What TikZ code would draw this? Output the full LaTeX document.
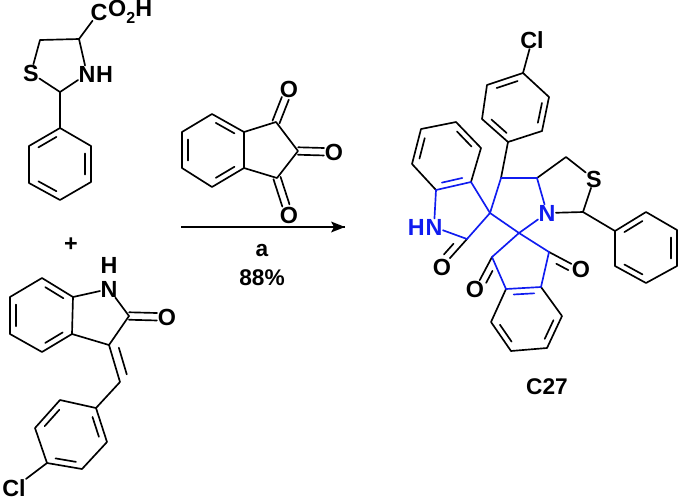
\documentclass[tikz,border=0pt]{standalone}
\usepackage{fontspec}
\setmainfont{Liberation Sans}
\usetikzlibrary{calc}
\definecolor{molblue}{RGB}{16,28,240}
\tikzset{
  bond/.style={line width=1.25pt,line join=round,line cap=round,black},
  bbond/.style={bond,draw=molblue},
  atom/.style={inner sep=.2pt,font=\fontsize{17.5}{20}\selectfont\bfseries,text=black},
  batom/.style={atom,text=molblue},
  tail/.style={inner sep=0pt,font=\fontsize{17.5}{20}\selectfont\bfseries},
  lbl/.style={inner sep=0pt,font=\fontsize{17}{20}\selectfont\bfseries}
}
% inner line of a ring double bond: ends, ring centre, style
\newcommand{\inner}[4][bond]{\draw[#1] ($($(#2)!.14!(#3)$)!.19!(#4)$) -- ($($(#3)!.14!(#2)$)!.19!(#4)$);}
% carbonyl: two lines from carbon to oxygen
\newcommand{\carbonyl}[2]{%
  \draw[bond,shorten >=7.5pt] ($(#1)!2.8pt!90:(#2)$) -- ($(#2)!2.8pt!-90:(#1)$);
  \draw[bond,shorten >=7.5pt] ($(#1)!2.8pt!-90:(#2)$) -- ($(#2)!2.8pt!90:(#1)$);}
% ketone drawn as a main bond and a short side line
\newcommand{\ketone}[3]{%
  \draw[bond] (#1) -- (#2);
  \draw[bond,shorten >=8pt] ($($(#1)!.33!(#2)$)!5.2pt!#3:(#2)$) -- ($(#2)!5.2pt!-#3:(#1)$);}
\begin{document}
\begin{tikzpicture}[x=.75pt,y=-.75pt]
\useasboundingbox (0,0) rectangle (680,501);
% ---------- thiazolidine acid
\node[atom] (aC) at (99,12) {C};
\node[tail,anchor=west] (aT) at (aC.east) {O\raisebox{-.3em}{\fontsize{12}{13}\selectfont 2}H};
\node[atom] (aS) at (31,73) {S};
\node[atom] (aN) at (87,74) {N};
\node[tail,anchor=west] (aH) at (aN.east) {H};
\coordinate (a4) at (79,39);
\coordinate (a5) at (40,40);
\coordinate (a2) at (60,92);
\coordinate (p1) at (60,128);
\coordinate (p2) at (91,146);
\coordinate (p3) at (91,182);
\coordinate (p4) at (60,200);
\coordinate (p5) at (29,183);
\coordinate (p6) at (29,146);
\coordinate (pc) at (60,164);
\draw[bond] (aC) -- (a4);
\draw[bond] (a4) -- (a5) -- (aS);
\draw[bond] (a4) -- (aN);
\draw[bond] (aS) -- (a2);
\draw[bond] (aN) -- (a2);
\draw[bond] (a2) -- (p1);
\draw[bond] (p1) -- (p2) -- (p3) -- (p4) -- (p5) -- (p6) -- cycle;
\inner{p1}{p6}{pc}\inner{p2}{p3}{pc}\inner{p4}{p5}{pc}
% ---------- plus
\node[atom] (plus) at (71,245) {+};
% ---------- 3-benzylidene oxindole
\node[atom] (bH) at (109,265.5) {H};
\node[atom] (bN) at (109,289) {N};
\node[atom] (bO) at (167,317) {O};
\node[atom] (bCl) at (14,488) {Cl};
\coordinate (b2) at (129,316);
\coordinate (b3) at (109,345);
\coordinate (b3a) at (72,334);
\coordinate (b7a) at (73,297);
\coordinate (b7) at (42,278);
\coordinate (b6) at (10,297);
\coordinate (b5) at (10,334);
\coordinate (b4) at (42,352);
\coordinate (bc) at (41,315);
\coordinate (bv) at (120,382);
\coordinate (q1) at (96,408);
\coordinate (q2) at (107,442);
\coordinate (q3) at (82,469);
\coordinate (q4) at (47,463);
\coordinate (q5) at (35,428);
\coordinate (q6) at (60,400);
\coordinate (qc) at (71,435);
\draw[bond] (b7a) -- (bN);
\draw[bond] (bN) -- (b2);
\draw[bond] (b2) -- (b3) -- (b3a);
\draw[bond] (b3a) -- (b7a) -- (b7) -- (b6) -- (b5) -- (b4) -- cycle;
\inner{b7}{b7a}{bc}\inner{b6}{b5}{bc}\inner{b4}{b3a}{bc}
\carbonyl{b2}{bO}
\draw[bond] (b3) -- (bv) -- (q1);
\draw[bond] ($($(b3)!.14!(bv)$)!6.5pt!90:(bv)$) -- ($($(bv)!.14!(b3)$)!6.5pt!-90:(b3)$);
\draw[bond] (q1) -- (q2) -- (q3) -- (q4) -- (q5) -- (q6) -- cycle;
\inner{q1}{q2}{qc}\inner{q3}{q4}{qc}\inner{q5}{q6}{qc}
\draw[bond] (q4) -- (bCl);
% ---------- indantrione
\node[atom] (tO1) at (289,89) {O};
\node[atom] (tO2) at (334,152) {O};
\node[atom] (tO3) at (289,215) {O};
\coordinate (t1) at (212,114);
\coordinate (t2) at (244,132);
\coordinate (t3) at (244,168);
\coordinate (t4) at (212,187);
\coordinate (t5) at (182,168);
\coordinate (t6) at (182,132);
\coordinate (tc) at (213,150);
\coordinate (c1) at (276,122);
\coordinate (c2) at (298,151);
\coordinate (c3) at (277,178);
\draw[bond] (t1) -- (t2) -- (t3) -- (t4) -- (t5) -- (t6) -- cycle;
\inner{t1}{t2}{tc}\inner{t3}{t4}{tc}\inner{t5}{t6}{tc}
\draw[bond] (t2) -- (c1) -- (c2) -- (c3) -- (t3);
\carbonyl{c1}{tO1}\carbonyl{c2}{tO2}\carbonyl{c3}{tO3}
% ---------- reaction arrow
\coordinate (arS) at (181,227);
\coordinate (arE) at (345,227);
\draw[line width=1pt] (arS) -- (arE);
\fill (arE) -- ++(-14,-5.5) -- ++(3,5.5) -- ++(-3,5.5) -- cycle;
\node[lbl] (la) at (262,251) {a};
\node[lbl] (lb) at (262,278) {88\%};
% ---------- product
\node[atom] (xCl) at (532,40) {Cl};
\node[atom] (xS) at (594,179) {S};
\node[batom] (xN) at (547,213) {N};
\node[batom] (xHN) at (434,227) {N};
\node[tail,anchor=east,text=molblue] (xHH) at (xHN.west) {H};
\node[atom] (xO1) at (442,267) {O};
\node[atom] (xO2) at (475,289) {O};
\node[atom] (xO3) at (581,269) {O};
\node[lbl] (xlab) at (547,387) {C27};
% chlorophenyl
\coordinate (r1) at (508,142);
\coordinate (r2) at (542,131);
\coordinate (r3) at (549,97);
\coordinate (r4) at (523,73);
\coordinate (r5) at (487,85);
\coordinate (r6) at (482,119);
\coordinate (rc) at (516,108);
% central ring
\coordinate (y1) at (501,178);
\coordinate (y2) at (537,178);
\coordinate (sp1) at (490,213);
\coordinate (sp2) at (519,233);
\coordinate (ych) at (566,157);
\coordinate (y3) at (583,212);
% oxindole
\coordinate (i3a) at (471,182);
\coordinate (i4) at (481,148);
\coordinate (i5) at (456,122);
\coordinate (i6) at (421,129);
\coordinate (i7) at (412,164);
\coordinate (i7a) at (436,190);
\coordinate (ic) at (446,156);
\coordinate (ico) at (467,239);
% indanedione
\coordinate (kl) at (492,257);
\coordinate (kr) at (549,252);
\coordinate (j3a) at (506,289);
\coordinate (j7a) at (541,287);
\coordinate (j7) at (562,316);
\coordinate (j6) at (547,348);
\coordinate (j5) at (511,351);
\coordinate (j4) at (491,322);
\coordinate (jc) at (526,319);
% phenyl
\coordinate (f1) at (615,231);
\coordinate (f2) at (646,212);
\coordinate (f3) at (677,230);
\coordinate (f4) at (677,266);
\coordinate (f5) at (646,283);
\coordinate (f6) at (615,266);
\coordinate (fc) at (646,248);
% black bonds
\draw[bond] (xCl) -- (r4);
\draw[bond] (r1) -- (r2) -- (r3) -- (r4) -- (r5) -- (r6) -- cycle;
\inner{r2}{r3}{rc}\inner{r4}{r5}{rc}\inner{r6}{r1}{rc}
\draw[bond] (r1) -- (y1);
\draw[bond] (y2) -- (ych) -- (xS);
\draw[bond] (xS) -- (y3);
\draw[bond] (xN) -- (y3) -- (f1);
\draw[bond] (f1) -- (f2) -- (f3) -- (f4) -- (f5) -- (f6) -- cycle;
\inner{f1}{f2}{fc}\inner{f3}{f4}{fc}\inner{f5}{f6}{fc}
\draw[bond] (i3a) -- (i4) -- (i5) -- (i6) -- (i7) -- (i7a);
\inner{i4}{i5}{ic}\inner{i6}{i7}{ic}
\ketone{ico}{xO1}{-90}\ketone{kl}{xO2}{90}\ketone{kr}{xO3}{-90}
\draw[bond] (j3a) -- (j4) -- (j5) -- (j6) -- (j7) -- (j7a);
\inner{j7}{j6}{jc}\inner{j5}{j4}{jc}
% blue bonds
\draw[bbond] (sp1) -- (y1) -- (y2);
\draw[bbond] (y2) -- (xN);
\draw[bbond] (xN) -- (sp2);
\draw[bbond] (sp1) -- (sp2);
\draw[bbond] (sp1) -- (i3a) -- (i7a);
\inner[bbond]{i3a}{i7a}{ic}
\draw[bbond] (i7a) -- (xHN);
\draw[bbond] (xHN) -- (ico);
\draw[bbond] (ico) -- (sp1);
\draw[bbond] (sp2) -- (kl) -- (j3a) -- (j7a) -- (kr) -- (sp2);
\inner[bbond]{j3a}{j7a}{jc}
\end{tikzpicture}
\end{document}
